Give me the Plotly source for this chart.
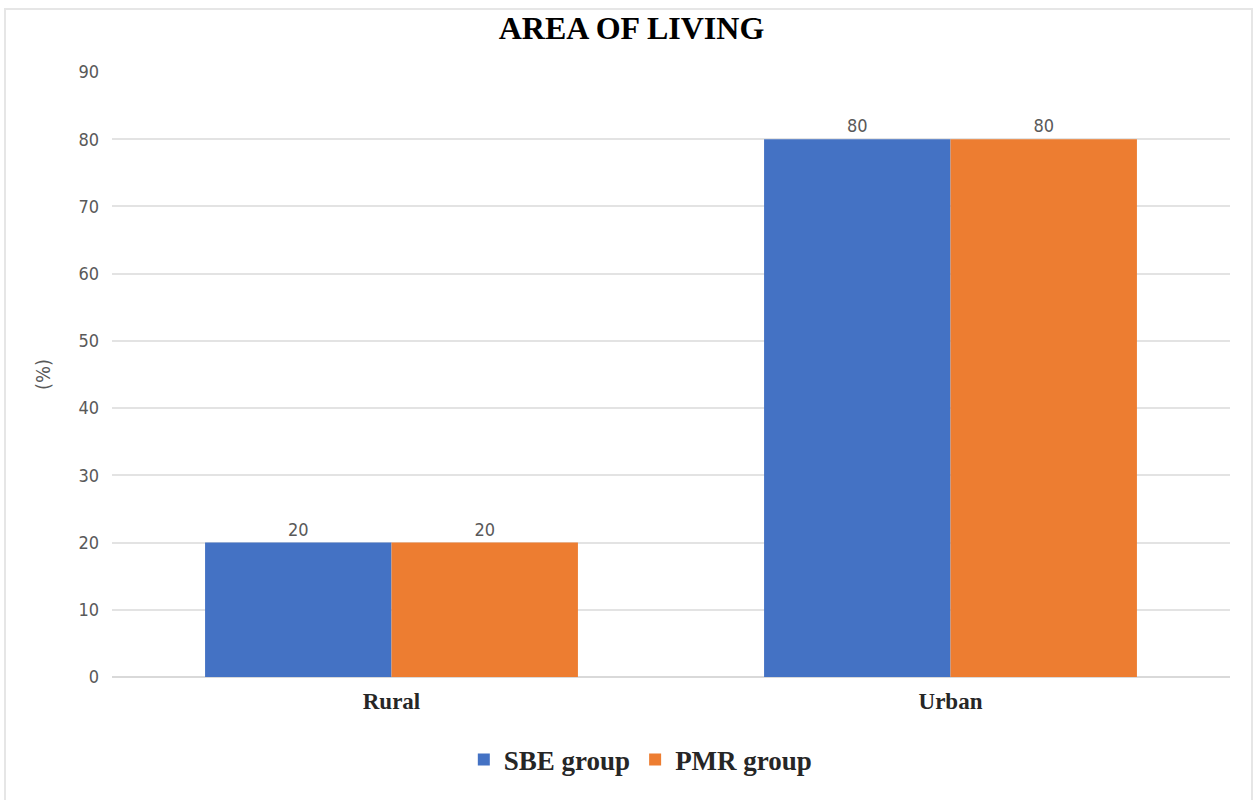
import plotly.graph_objects as go

# Area of living, share of each group (%)
categories = ["Rural", "Urban"]
sbe_group = [20, 80]
pmr_group = [20, 80]
y_ticks = [0, 10, 20, 30, 40, 50, 60, 70, 80, 90]

label_font = dict(family="Liberation Sans Narrow, DejaVu Sans Condensed, sans-serif", size=18, color="#595959")
serif = "Liberation Serif, Times New Roman, serif"

fig = go.Figure()
fig.add_trace(go.Bar(
    name="<b>SBE group</b>", x=categories, y=sbe_group, marker_color="#4472C4",
    marker_line_width=0, text=sbe_group, textposition="outside",
    textfont=label_font, cliponaxis=False,
))
fig.add_trace(go.Bar(
    name="<b>PMR group</b>", x=categories, y=pmr_group, marker_color="#ED7D31",
    marker_line_width=0, text=pmr_group, textposition="outside",
    textfont=label_font, cliponaxis=False,
))

fig.update_layout(
    width=1253, height=800,
    margin=dict(l=112, r=23, t=72, b=123, autoexpand=False),
    paper_bgcolor="white", plot_bgcolor="white",
    barmode="group", bargap=0.333, bargroupgap=0,
    title=dict(text="<b>AREA OF LIVING</b>", x=0.504, xanchor="center", y=0.965, yanchor="middle",
               font=dict(family=serif, size=32, color="#000000")),
    xaxis=dict(showgrid=False, showline=False, ticks="",
               tickvals=categories, ticktext=[f"<b>{c}</b>" for c in categories],
               tickfont=dict(family=serif, size=23, color="#262626"),
               ticklabelstandoff=8),
    yaxis=dict(range=[0, 90], tickvals=y_ticks, showgrid=True, gridcolor="#e3e3e3", gridwidth=2,
               zeroline=True, zerolinecolor="#d9d9d9", zerolinewidth=2, showline=False, ticks="",
               tickfont=label_font, ticklabelstandoff=12,
               title=dict(text="(%)", font=dict(label_font, size=20), standoff=22)),
    legend=dict(orientation="h", x=0.473, xanchor="center", y=-0.137, yanchor="middle",
                font=dict(family=serif, size=27, color="#262626"),
                itemwidth=30, tracegroupgap=0),
    showlegend=True,
)

# light outer frame of the chart area
fig.add_shape(type="rect", xref="paper", yref="paper",
              x0=-0.0957, x1=1.0197, y0=-0.205, y1=1.104,
              line=dict(color="#e6e6e6", width=2), fillcolor="rgba(0,0,0,0)", layer="below")

fig.write_html("out.html")
